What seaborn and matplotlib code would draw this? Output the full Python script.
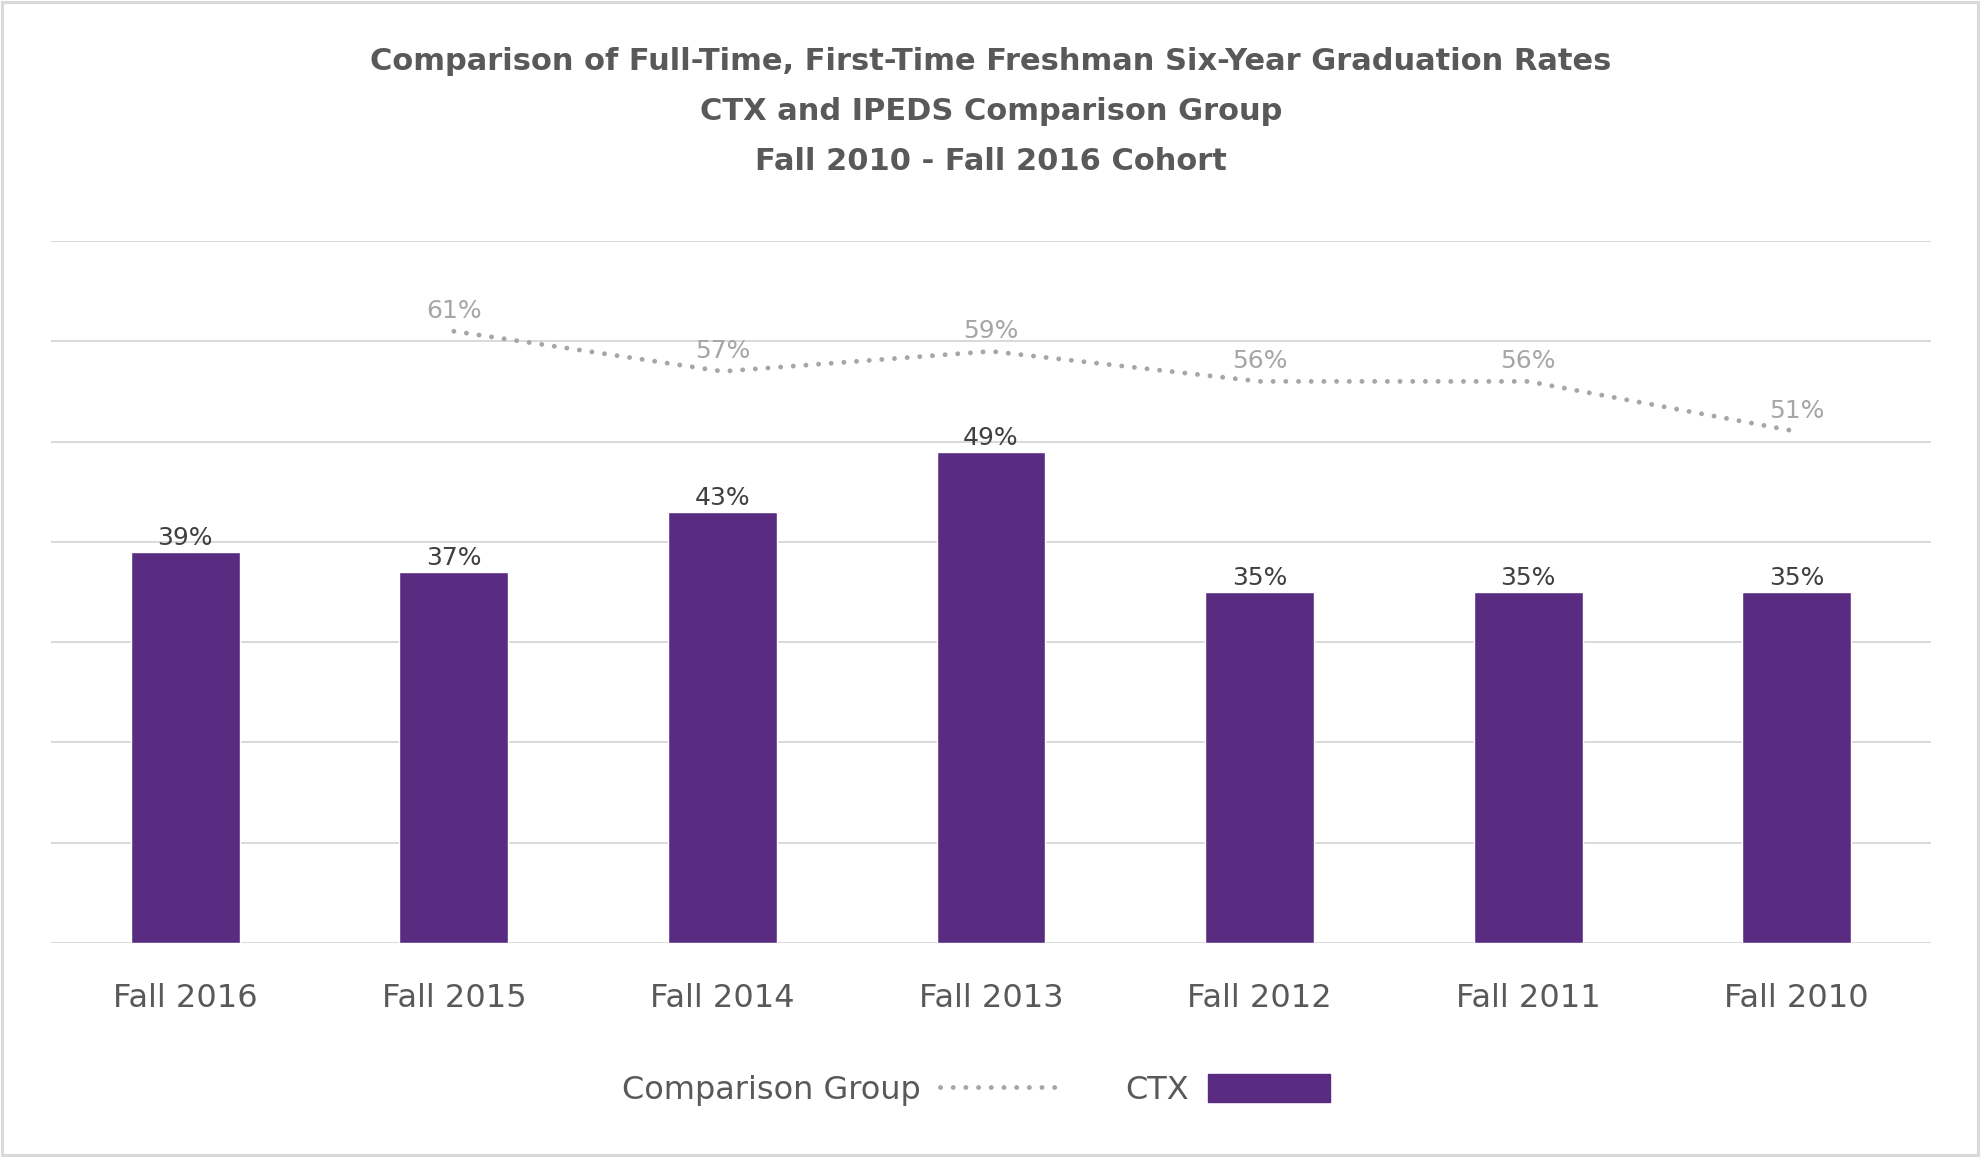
import numpy as np
import pandas as pd
import matplotlib
matplotlib.use("Agg")
import matplotlib.pyplot as plt
import seaborn as sns
from matplotlib.patches import Rectangle
from matplotlib.lines import Line2D
from matplotlib.patches import Patch

# ---- data ----
categories = ["Fall 2016", "Fall 2015", "Fall 2014", "Fall 2013", "Fall 2012", "Fall 2011", "Fall 2010"]
ctx_values = [39, 37, 43, 49, 35, 35, 35]
comparison_values = [None, 61, 57, 59, 56, 56, 51]
title_lines = [
    "Comparison of Full-Time, First-Time Freshman Six-Year Graduation Rates",
    "CTX and IPEDS Comparison Group",
    "Fall 2010 - Fall 2016 Cohort",
]

BAR = "#592C82"
LINE = "#A6A6A6"
GRID = "#D9D9D9"
TXT = "#595959"

sns.set_theme(style="white")
plt.rcParams["font.family"] = ["DejaVu Sans"]

fig = plt.figure(figsize=(19.82, 11.57), dpi=100)
ax = fig.add_axes([51 / 1982, 1 - 943 / 1157, (1931 - 51) / 1982, (943 - 241) / 1157])

df = pd.DataFrame({"cohort": categories, "ctx": ctx_values})
sns.barplot(data=df, x="cohort", y="ctx", color=BAR, width=0.405, ax=ax,
            saturation=1, zorder=3)

# comparison line
cmp_x = [i for i, v in enumerate(comparison_values) if v is not None]
cmp_y = [v for v in comparison_values if v is not None]
sns.lineplot(x=cmp_x, y=cmp_y, ax=ax, color=LINE, linewidth=3.5,
             linestyle=(0, (0.01, 2.6)), zorder=4)
ax.lines[-1].set_dash_capstyle("round")

ax.set_ylim(0, 70)
ax.set_xlim(-0.5, len(categories) - 0.5)
ax.set_yticks(np.arange(0, 71, 10))
ax.set_yticklabels([])
ax.tick_params(axis="y", length=0)
ax.tick_params(axis="x", length=0, pad=29, labelsize=23, labelcolor=TXT)
ax.grid(axis="y", color=GRID, linewidth=1.4, zorder=0)
ax.set_axisbelow(True)
for s in ax.spines.values():
    s.set_visible(False)
ax.set_xlabel("")
ax.set_ylabel("")

# labels
for i, v in enumerate(ctx_values):
    ax.annotate(f"{v}%", (i, v), xytext=(0, 1.5), textcoords="offset points",
                ha="center", va="bottom", fontsize=18, color="#404040")
for x, v in zip(cmp_x, cmp_y):
    ax.annotate(f"{v}%", (x, v), xytext=(0, 6), textcoords="offset points",
                ha="center", va="bottom", fontsize=18, color=LINE)

# title
for k, (t, y) in enumerate(zip(title_lines, [61, 112, 162])):
    fig.text(0.5, 1 - y / 1157, t, ha="center", va="center", fontsize=22,
             fontweight="bold", color=TXT)

# legend
handles = [
    Line2D([0], [0], color=LINE, linewidth=3.5, linestyle=(0, (0.01, 2.6)),
           dash_capstyle="round"),
    Patch(facecolor=BAR, edgecolor=BAR),
]
labels = ["Comparison Group", "CTX"]
fig.legend(handles, labels, loc="center", bbox_to_anchor=(0.4925, 1 - 1090 / 1157),
           ncol=2, frameon=False, markerfirst=False, fontsize=23,
           labelcolor=TXT, handlelength=3.8, handleheight=0.95, columnspacing=2.0,
           handletextpad=0.6)

# border
fig.patches.append(Rectangle((0.001, 0.002), 0.997, 0.996, transform=fig.transFigure,
                             fill=False, edgecolor=GRID, linewidth=2.2))

fig.savefig("out.png", dpi=100, facecolor="white")
